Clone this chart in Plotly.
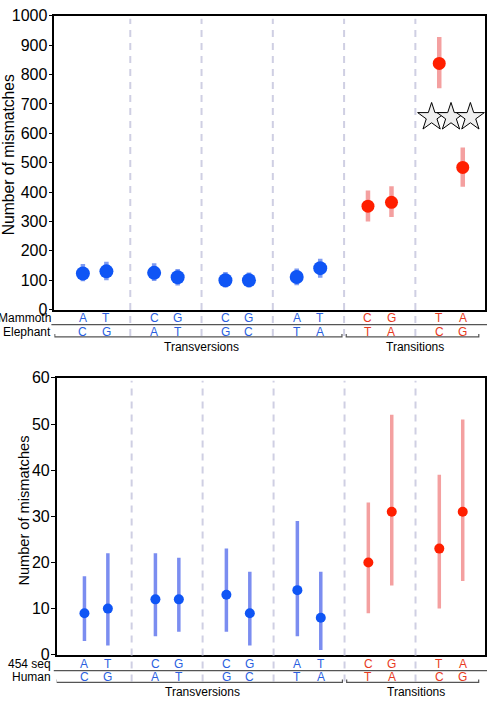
import plotly.graph_objects as go

W, H = 488, 706

# ---------------- data ----------------
groups = [0, 1, 2, 3, 4, 5]
row1_letters = ["A", "T", "C", "G", "C", "G", "A", "T", "C", "G", "T", "A"]
row2_letters = ["C", "G", "A", "T", "G", "C", "T", "A", "T", "A", "C", "G"]
is_transition = [False] * 8 + [True] * 4

top_values = [123, 130, 125, 110, 100, 100, 111, 141, 352, 365, 838, 484]
top_low = [96, 100, 97, 82, 75, 75, 83, 108, 300, 315, 753, 418]
top_high = [155, 163, 158, 138, 128, 126, 140, 173, 405, 420, 928, 552]

bot_values = [9, 10, 12, 12, 13, 9, 14, 8, 20, 31, 23, 31]
bot_low = [3, 2, 4, 5, 5, 2, 4, 1, 9, 15, 10, 16]
bot_high = [17, 22, 22, 21, 23, 18, 29, 18, 33, 52, 39, 51]

top_rows = ["Mammoth", "Elephant"]
bot_rows = ["454 seq", "Human"]
bracket_labels = ["Transversions", "Transitions"]
star_y = 655
y_title = "Number of mismatches"

BLUE = "#0f55f5"
BLUE_ERR_TOP = "#7f9cf2"
BLUE_ERR_BOT = "#7b8df0"
RED = "#ff1f00"
RED_ERR = "#f4a0a0"
BLUE_TXT = "#2a5fe0"
RED_TXT = "#e83a22"
DASH = "#cfcfe3"
FONT = "Liberation Sans, Arial, sans-serif"

OFF = 0.165
xs = []
for g in groups:
    xs += [g - OFF, g + OFF]


def py(p):
    return 1 - p / H


fig = go.Figure()


def add_panel(xa, ya, vals, lo, hi, dot_blue, dot_red, err_blue, err_red, ew):
    for trans, dcol, ecol, sz in [(False, BLUE, err_blue, dot_blue), (True, RED, err_red, dot_red)]:
        idx = [i for i in range(12) if is_transition[i] == trans]
        fig.add_trace(go.Scatter(
            x=[xs[i] for i in idx], y=[vals[i] for i in idx],
            mode="markers", xaxis=xa, yaxis=ya,
            marker=dict(color=dcol, size=sz),
            error_y=dict(type="data", symmetric=False,
                         array=[hi[i] - vals[i] for i in idx],
                         arrayminus=[vals[i] - lo[i] for i in idx],
                         color=ecol, thickness=ew, width=0),
            showlegend=False, hoverinfo="skip"))


add_panel("x", "y", top_values, top_low, top_high, 14, 13, BLUE_ERR_TOP, RED_ERR, 4.5)
add_panel("x2", "y2", bot_values, bot_low, bot_high, 10, 10, BLUE_ERR_BOT, RED_ERR, 3.5)

# stars
fig.add_trace(go.Scatter(x=[5 - 0.272, 5, 5 + 0.272], y=[star_y] * 3, mode="markers",
                         xaxis="x", yaxis="y",
                         marker=dict(symbol="star", size=21, color="#efefef",
                                     line=dict(color="black", width=1)),
                         showlegend=False, hoverinfo="skip"))

axis_common = dict(showgrid=False, zeroline=False, showline=True, linecolor="black",
                   linewidth=1.5, mirror=True)
ytick_common = dict(ticks="outside", ticklen=4, tickcolor="black", tickwidth=1.2,
                    ticklabelstandoff=-2, tickfont=dict(size=16, family=FONT))
fig.update_layout(
    width=W, height=H, margin=dict(l=0, r=0, t=0, b=0),
    paper_bgcolor="white", plot_bgcolor="white",
    font=dict(family=FONT, color="black"),
    xaxis=dict(domain=[54.3 / W, 485 / W], range=[-0.566, 5.477], showticklabels=False,
               ticks="", **axis_common),
    yaxis=dict(domain=[py(309), py(8)], range=[0, 1000], tickvals=list(range(0, 1001, 100)),
               **ytick_common, **axis_common),
    xaxis2=dict(domain=[56.7 / W, 485 / W], range=[-0.556, 5.479], showticklabels=False,
                ticks="", anchor="y2", **axis_common),
    yaxis2=dict(domain=[py(662.7), py(379)], range=[0, 60], tickvals=list(range(0, 61, 10)),
                anchor="x2", **ytick_common, **axis_common),
)

shapes = []
annots = []


def panel_decor(xref, plot_top, row1_y, row2_y, sep_y, br_y, lab_y, rows, left_px, title_x, title_y, title_size):
    # dashed separators
    for g in groups[:-1]:
        shapes.append(dict(type="line", xref=xref, yref="paper", x0=g + 0.5, x1=g + 0.5,
                           y0=py(br_y - 1), y1=py(plot_top + 3),
                           line=dict(color=DASH, width=2, dash="7px,6px")))
    # line between rows
    shapes.append(dict(type="line", xref="paper", yref="paper", x0=left_px / W - 0.006, x1=487 / W,
                       y0=py(sep_y), y1=py(sep_y), line=dict(color="#555555", width=1.2)))
    # brackets
    for (a, b) in [(-0.56, 3.5 - 0.03), (3.5 + 0.03, 5.39)]:
        shapes.append(dict(type="path", xref=xref, yref="paper",
                           path=f"M {a},{py(br_y - 3)} L {a},{py(br_y)} L {b},{py(br_y)} L {b},{py(br_y - 3)}",
                           line=dict(color="#555555", width=1.2)))
    for i in range(12):
        col = RED_TXT if is_transition[i] else BLUE_TXT
        for yy, txt in [(row1_y, row1_letters[i]), (row2_y, row2_letters[i])]:
            annots.append(dict(xref=xref, yref="paper", x=xs[i], y=py(yy), text=txt,
                               showarrow=False, xanchor="center", yanchor="middle",
                               font=dict(size=12, color=col, family=FONT)))
    for yy, txt in [(row1_y, rows[0]), (row2_y, rows[1])]:
        annots.append(dict(xref="paper", yref="paper", x=52.5 / W, y=py(yy), text=txt,
                           showarrow=False, xanchor="right", yanchor="middle",
                           font=dict(size=12, color="black", family=FONT)))
    for cx, txt in [(1.5, bracket_labels[0]), (4.5, bracket_labels[1])]:
        annots.append(dict(xref=xref, yref="paper", x=cx, y=py(lab_y), text=txt,
                           showarrow=False, xanchor="center", yanchor="middle",
                           font=dict(size=12, color="black", family=FONT)))
    annots.append(dict(xref="paper", yref="paper", x=title_x / W, y=py(title_y), text=y_title,
                       textangle=-90, showarrow=False, xanchor="center", yanchor="middle",
                       font=dict(size=title_size, color="black", family=FONT)))


panel_decor("x", 8, 317.7, 331.5, 324.5, 337, 347.5, top_rows, 54.3, 8, 151, 15.7)
panel_decor("x2", 379, 671.7, 685.5, 679, 691, 700.5, bot_rows, 56.7, 24, 515, 14.6)

fig.update_layout(shapes=shapes, annotations=annots)
fig.write_html("out.html", config={"displayModeBar": False},
               post_script="document.body.style.margin='0';document.body.style.overflow='hidden';")
